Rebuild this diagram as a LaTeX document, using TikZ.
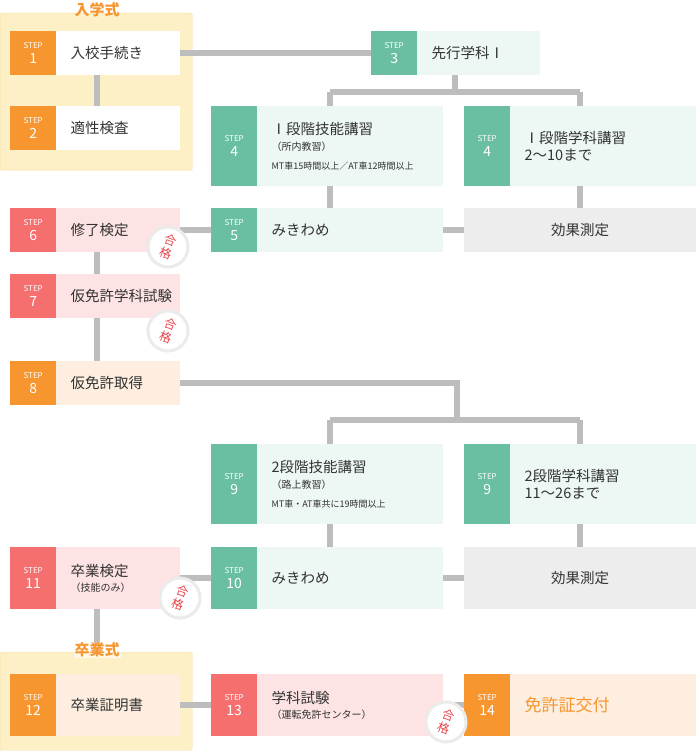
\documentclass[tikz,border=0pt]{standalone}
\usepackage{fontspec}
\setmainfont{Noto Sans CJK JP}
\definecolor{orn}{HTML}{F7962F}
\definecolor{grn}{HTML}{6ABFA2}
\definecolor{pnk}{HTML}{F46F6E}
\definecolor{bgrn}{HTML}{EDF7F3}
\definecolor{bpnk}{HTML}{FDE3E3}
\definecolor{born}{HTML}{FDEEDF}
\definecolor{bgry}{HTML}{EDEDED}
\definecolor{grp}{HTML}{FDEFC6}
\definecolor{grpb}{HTML}{F8DFA0}
\definecolor{ln}{HTML}{BDBDBD}
\definecolor{txt}{HTML}{333333}
\definecolor{okred}{HTML}{E8454A}
\newcommand\stp[9]{%
  \node[anchor=north west,minimum width=#4pt,minimum height=#5pt,inner sep=0,fill=#7] (#1) at (#2,#3) {};
  \node[anchor=north west,minimum width=46pt,minimum height=#5pt,inner sep=0,fill=#6,text=white,align=center,font=\fontsize{14}{15}\selectfont] (#1b) at (#2,#3) {{\fontsize{8}{10}\selectfont STEP}\\#8};
  \node[anchor=west,inner sep=0,text=txt,align=left] (#1t) at ([xshift=14pt]#1b.east) {#9};
}
\tikzset{conn/.style={draw=ln,line width=6pt},
  okbadge/.style={circle,fill=white,draw=black!8,line width=3pt,minimum size=40pt,inner sep=0,text=okred,align=center,font=\fontsize{12}{13}\selectfont,rotate=-20},
  grplabel/.style={text=orn,font=\fontsize{15}{16}\selectfont\bfseries}}
\begin{document}
\begin{tikzpicture}[x=1pt,y=-1pt,font=\fontsize{14.5}{17}\selectfont]
\useasboundingbox (0,0) rectangle (697,751);
\fill[white] (0,0) rectangle (697,751);
\node[anchor=north west,minimum width=192pt,minimum height=157pt,fill=grp,draw=grpb,rounded corners=1pt,inner sep=0] (g1) at (0,13) {};
\node[anchor=north west,minimum width=192pt,minimum height=98pt,fill=grp,draw=grpb,rounded corners=1pt,inner sep=0] (g2) at (0,652) {};
\coordinate (t1) at (455,92); \coordinate (t1l) at (330,92); \coordinate (t1r) at (580,92);
\coordinate (t2) at (457,383); \coordinate (t2m) at (457,420); \coordinate (t2l) at (330,420); \coordinate (t2r) at (580,420);
\draw[conn] (97,60) -- (97,120);
\draw[conn] (120,53) -- (400,53);
\draw[conn] (455,60) -- (t1) (t1l) -- (t1r) (t1l) -- (330,230) (t1r) -- (580,230);
\draw[conn] (97,230) -- (580,230);
\draw[conn] (97,230) -- (97,383) -- (t2) -- (t2m) (t2l) -- (t2r) (t2l) -- (330,578) (t2r) -- (580,578);
\draw[conn] (97,578) -- (580,578);
\draw[conn] (97,578) -- (97,652);
\draw[conn] (97,705) -- (580,705);
\stp{s1}{10}{31}{170}{44}{orn}{white}{1}{入校手続き}
\stp{s2}{10}{106}{170}{44}{orn}{white}{2}{適性検査}
\stp{s3}{371}{31}{169}{44}{grn}{bgrn}{3}{先行学科Ⅰ}
\stp{s4a}{211}{106}{232}{80}{grn}{bgrn}{4}{Ⅰ段階技能講習\\[-1pt]{\fontsize{10}{12}\selectfont （所内教習）}\\[2pt]{\fontsize{9}{10}\selectfont MT車15時間以上／AT車12時間以上}}
\stp{s4b}{464}{106}{232}{80}{grn}{bgrn}{4}{Ⅰ段階学科講習\\2〜10まで}
\stp{s5}{211}{208}{232}{44}{grn}{bgrn}{5}{みきわめ}
\node[anchor=north west,minimum width=232pt,minimum height=44pt,fill=bgry,text=txt,inner sep=0] (k1) at (464,208) {効果測定};
\stp{s6}{10}{208}{170}{44}{pnk}{bpnk}{6}{修了検定}
\stp{s7}{10}{274}{170}{44}{pnk}{bpnk}{7}{仮免許学科試験}
\stp{s8}{10}{361}{170}{44}{orn}{born}{8}{仮免許取得}
\stp{s9a}{211}{444}{232}{80}{grn}{bgrn}{9}{2段階技能講習\\[-1pt]{\fontsize{10}{12}\selectfont （路上教習）}\\[2pt]{\fontsize{9}{10}\selectfont MT車・AT車共に19時間以上}}
\stp{s9b}{464}{444}{232}{80}{grn}{bgrn}{9}{2段階学科講習\\11〜26まで}
\stp{s10}{211}{547}{232}{62}{grn}{bgrn}{10}{みきわめ}
\node[anchor=north west,minimum width=232pt,minimum height=62pt,fill=bgry,text=txt,inner sep=0] (k2) at (464,547) {効果測定};
\stp{s11}{10}{547}{170}{62}{pnk}{bpnk}{11}{卒業検定\\[-2pt]{\fontsize{10}{12}\selectfont （技能のみ）}}
\stp{s12}{10}{674}{170}{62}{orn}{born}{12}{卒業証明書}
\stp{s13}{211}{674}{232}{62}{pnk}{bpnk}{13}{学科試験\\[-2pt]{\fontsize{10}{12}\selectfont （運転免許センター）}}
\stp{s14}{464}{674}{232}{62}{orn}{born}{14}{\textcolor{orn}{\fontsize{17}{18}\selectfont 免許証交付}}
\node[okbadge] (ok1) at (168,247) {合\\[1pt]格};
\node[okbadge] (ok2) at (168,331) {合\\[1pt]格};
\node[okbadge] (ok3) at (180,598) {合\\[1pt]格};
\node[okbadge] (ok4) at (446,722) {合\\[1pt]格};
\node[grplabel] (l1) at (97,10) {入学式};
\node[grplabel,fill=white,fill opacity=0.6,text opacity=1,inner sep=1pt] (l2) at (97,650) {卒業式};
\end{tikzpicture}
\end{document}
